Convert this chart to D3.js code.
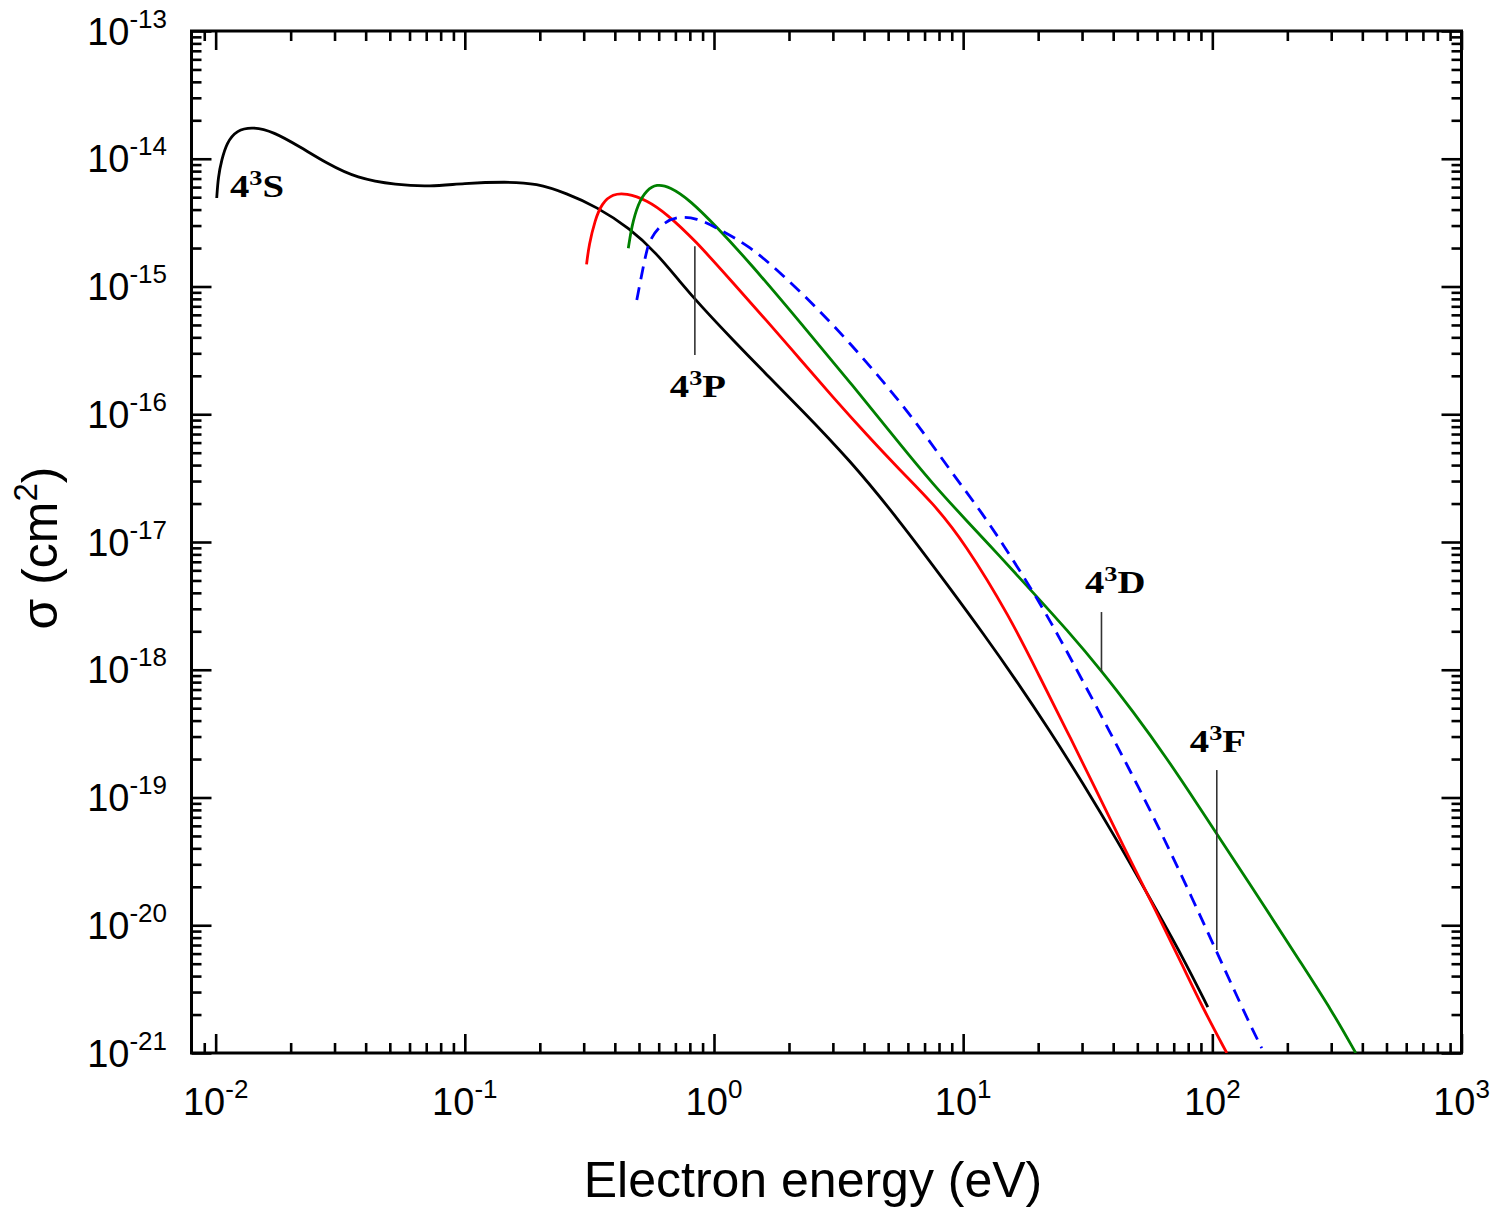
<!DOCTYPE html>
<html>
<head>
<meta charset="utf-8">
<script src="https://cdn.jsdelivr.net/npm/d3@7"></script>
<style>
  html, body { margin: 0; padding: 0; background: #fff; }
  svg { display: block; }
</style>
</head>
<body>
<svg id="chart" width="1500" height="1218"></svg>
<script>
// ---------------- data ----------------
// 4^3S (black)
const blackE = [0.0101, 0.01024, 0.01057, 0.01107, 0.01214, 0.01415, 0.01703, 0.0218, 0.0279, 0.0368, 0.0532, 0.0724, 0.0985, 0.147, 0.194, 0.256, 0.338, 0.460, 0.588, 0.730, 0.878, 1.191, 1.631, 2.211, 3.51, 5.57, 8.84, 12.0, 16.4, 22.3, 30.2, 41.4, 56.1, 76.1, 95.9];
const blackS = [4.93e-15, 7.24e-15, 9.77e-15, 1.33e-14, 1.68e-14, 1.78e-14, 1.63e-14, 1.24e-14, 9.21e-15, 7.03e-15, 6.23e-15, 6.04e-15, 6.42e-15, 6.61e-15, 6.42e-15, 5.36e-15, 4.21e-15, 2.85e-15, 1.82e-15, 1.09e-15, 7.17e-16, 3.81e-16, 2.03e-16, 1.12e-16, 4.38e-17, 1.46e-17, 4.36e-18, 1.94e-18, 8.16e-19, 3.32e-19, 1.30e-19, 4.65e-20, 1.63e-20, 5.64e-21, 2.29e-21];
// 4^3P (red)
const redE = [0.308, 0.315, 0.333, 0.355, 0.393, 0.443, 0.538, 0.647, 0.838, 1.191, 1.631, 2.211, 3.00, 4.11, 5.57, 7.56, 10.16, 15.4, 20.3, 26.1, 33.2, 43.7, 59.9, 76.1, 91.6, 114.3];
const redS = [1.49e-15, 2.11e-15, 3.32e-15, 4.50e-15, 5.30e-15, 5.39e-15, 4.75e-15, 3.69e-15, 2.31e-15, 1.07e-15, 5.37e-16, 2.71e-16, 1.36e-16, 6.88e-17, 3.66e-17, 2.02e-17, 9.82e-18, 2.59e-18, 8.77e-19, 3.32e-19, 1.28e-19, 4.25e-20, 1.25e-20, 4.80e-21, 2.25e-21, 1.0e-21];
// 4^3D (green)
const greenE = [0.453, 0.467, 0.496, 0.537, 0.588, 0.665, 0.800, 1.027, 1.394, 2.211, 3.51, 5.57, 7.56, 10.35, 14.0, 19.0, 26.1, 36.0, 47.9, 65.6, 89.1, 104.2, 165.4, 224.2, 304.2, 376.3];
const greenS = [1.99e-15, 2.94e-15, 4.48e-15, 5.69e-15, 6.34e-15, 6.04e-15, 4.75e-15, 2.92e-15, 1.53e-15, 5.27e-16, 1.79e-16, 5.85e-17, 2.84e-17, 1.46e-17, 7.77e-18, 4.06e-18, 2.05e-18, 9.78e-19, 4.75e-19, 2.04e-19, 8.28e-20, 5.18e-20, 1.32e-20, 5.25e-21, 2.09e-21, 1.0e-21];
// 4^3F (blue dashed)
const blueE = [0.490, 0.520, 0.538, 0.553, 0.607, 0.710, 0.854, 1.027, 1.394, 1.890, 2.59, 3.51, 4.76, 6.52, 8.84, 12.0, 15.4, 19.8, 24.4, 30.2, 38.8, 49.8, 63.3, 81.2, 104.2, 120.8, 141.3, 157.9];
const blueS = [7.84e-16, 1.43e-15, 1.93e-15, 2.31e-15, 3.03e-15, 3.56e-15, 3.44e-15, 2.87e-15, 2.07e-15, 1.23e-15, 6.79e-16, 3.61e-16, 1.82e-16, 8.54e-17, 3.66e-17, 1.66e-17, 7.91e-18, 3.64e-18, 1.77e-18, 8.16e-19, 3.26e-19, 1.28e-19, 5.0e-20, 1.79e-20, 6.17e-21, 3.28e-21, 1.69e-21, 1.09e-21];

// tick labels (exponents of ten)
const xTickExps = [-2, -1, 0, 1, 2, 3];
const yTickExps = [-13, -14, -15, -16, -17, -18, -19, -20, -21];

// annotation labels
const annoNames = ["S", "P", "D", "F"];
const annoE = [0.01141, 0.665, 30.8, 81.2];        // left edge of label (eV)
const annoS = [5.02e-15, 1.36e-16, 3.99e-18, 2.27e-19]; // baseline (cm^2)
// pointer lines
const pointerE = [0.838, 35.9, 104.2];
const pointerTop = [2.07e-15, 2.83e-18, 1.64e-19];
const pointerBot = [2.91e-16, 9.6e-19, 6.4e-21];

// ---------------- layout ----------------
const L = 191.5, R = 1461.5, T = 31, B = 1053;
const svg = d3.select("#chart");

const x = d3.scaleLog().domain([0.008, 1000]).range([L, R]);
const y = d3.scaleLog().domain([1e-21, 1e-13]).range([B, T]);

svg.append("defs").append("clipPath").attr("id", "clip")
  .append("rect").attr("x", L).attr("y", T).attr("width", R - L).attr("height", B - T);

function majorMinor(lo, hi) {
  const major = [], minor = [];
  for (let e = lo; e <= hi; e++) {
    major.push(Math.pow(10, e));
    for (let m = 2; m <= 9; m++) minor.push(m * Math.pow(10, e));
  }
  return { major, minor };
}
const xt = majorMinor(-3, 3);
const xMajor = xt.major.filter(v => v >= 0.008 && v <= 1000);
const xMinor = xt.minor.filter(v => v >= 0.0085 && v < 1000);
const yt = majorMinor(-21, -13);
const yMajor = yt.major;
const yMinor = yt.minor.filter(v => v < 1e-13);

const tickStroke = 2.6;
function styleAxis(g) {
  g.select(".domain").remove();
  g.selectAll("line").attr("stroke", "#000").attr("stroke-width", tickStroke);
  g.selectAll("text").remove();
}

[[d3.axisBottom, B], [d3.axisTop, T]].forEach(([ax, pos]) => {
  svg.append("g").attr("transform", `translate(0,${pos})`)
    .call(ax(x).tickValues(xMajor).tickSize(-19).tickFormat("")).call(styleAxis);
  svg.append("g").attr("transform", `translate(0,${pos})`)
    .call(ax(x).tickValues(xMinor).tickSize(-10).tickFormat("")).call(styleAxis);
});
[[d3.axisLeft, L], [d3.axisRight, R]].forEach(([ax, pos]) => {
  svg.append("g").attr("transform", `translate(${pos},0)`)
    .call(ax(y).tickValues(yMajor).tickSize(-20).tickFormat("")).call(styleAxis);
  svg.append("g").attr("transform", `translate(${pos},0)`)
    .call(ax(y).tickValues(yMinor).tickSize(-10).tickFormat("")).call(styleAxis);
});

svg.append("rect").attr("x", L).attr("y", T).attr("width", R - L).attr("height", B - T)
  .attr("fill", "none").attr("stroke", "#000").attr("stroke-width", 3);

// tick labels
const labelFont = "'Liberation Sans', Arial, Helvetica, sans-serif";
xTickExps.forEach(e => {
  const t = svg.append("text")
    .attr("x", x(Math.pow(10, e))).attr("y", 1115)
    .attr("text-anchor", "middle")
    .attr("font-family", labelFont).attr("font-size", 38).attr("fill", "#000");
  t.append("tspan").text("10");
  t.append("tspan").attr("dy", -17).attr("font-size", 26).text(String(e));
});
yTickExps.forEach(e => {
  const t = svg.append("text")
    .attr("x", 167).attr("y", y(Math.pow(10, e)) + 13.5)
    .attr("text-anchor", "end")
    .attr("font-family", labelFont).attr("font-size", 38).attr("fill", "#000");
  t.append("tspan").text("10");
  t.append("tspan").attr("dy", -17).attr("font-size", 26).text(String(e));
});

// axis titles
svg.append("text").attr("x", 813).attr("y", 1197)
  .attr("text-anchor", "middle").attr("font-family", labelFont).attr("font-size", 50)
  .text("Electron energy (eV)");
const ytl = svg.append("text")
  .attr("transform", "translate(57,548) rotate(-90)")
  .attr("text-anchor", "middle").attr("font-family", labelFont).attr("font-size", 50);
ytl.append("tspan").text("σ (cm");
ytl.append("tspan").attr("dy", -20).attr("font-size", 33).text("2");
ytl.append("tspan").attr("dy", 20).text(")");

// curves
const line = d3.line()
  .x(d => x(d[0])).y(d => y(d[1]))
  .curve(d3.curveBasis);
const plot = svg.append("g").attr("clip-path", "url(#clip)");
const series = [
  { E: blackE, S: blackS, color: "#000000", dash: null },
  { E: redE, S: redS, color: "#ff0000", dash: null },
  { E: greenE, S: greenS, color: "#008000", dash: null },
  { E: blueE, S: blueS, color: "#0000ff", dash: "13,8" }
];
series.forEach(s => {
  plot.append("path")
    .datum(s.E.map((e, i) => [e, s.S[i]]))
    .attr("d", line)
    .attr("fill", "none")
    .attr("stroke", s.color)
    .attr("stroke-width", 2.8)
    .attr("stroke-dasharray", s.dash);
});

// pointer lines
pointerE.forEach((e, i) => {
  svg.append("line")
    .attr("x1", x(e)).attr("x2", x(e))
    .attr("y1", y(pointerTop[i])).attr("y2", y(pointerBot[i]))
    .attr("stroke", "#333").attr("stroke-width", 1.6);
});

// labels
const serif = "'Liberation Serif', 'Times New Roman', serif";
annoNames.forEach((n, i) => {
  const t = svg.append("text")
    .attr("transform", `translate(${x(annoE[i])},${y(annoS[i])}) scale(1.25,1)`)
    .attr("font-family", serif).attr("font-weight", "bold").attr("font-size", 31).attr("fill", "#000");
  t.append("tspan").text("4");
  t.append("tspan").attr("dy", -12).attr("font-size", 21).text("3");
  t.append("tspan").attr("dy", 12).text(n);
});
</script>
</body>
</html>
